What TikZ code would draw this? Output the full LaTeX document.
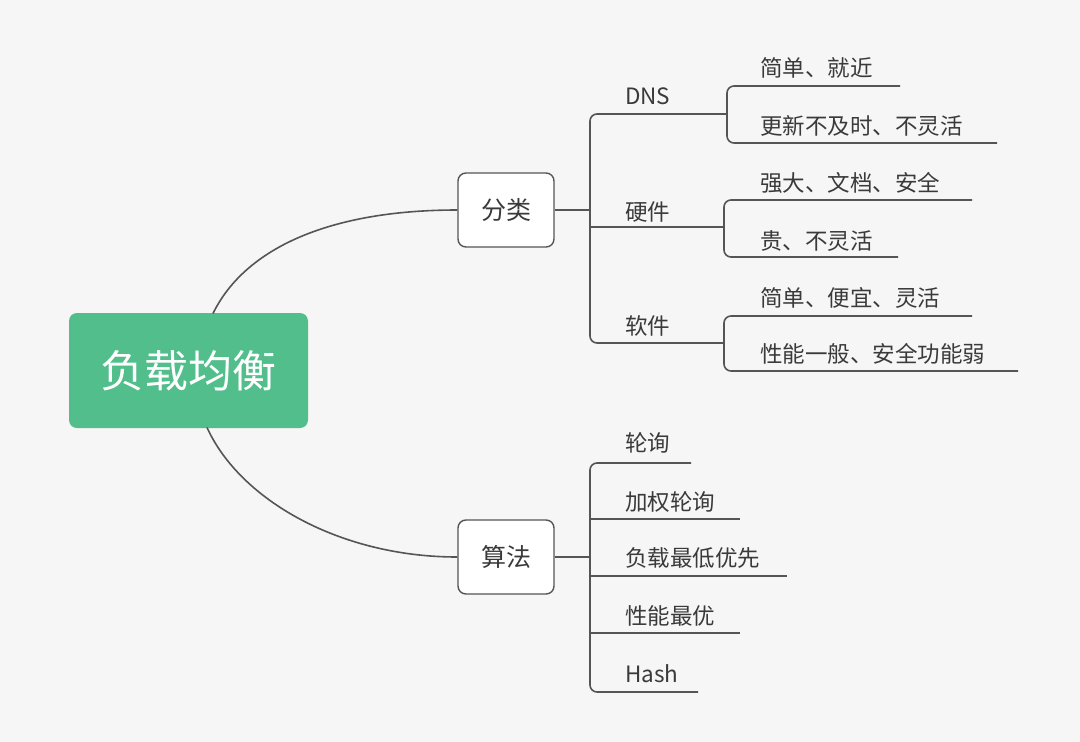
\documentclass[tikz,border=0pt]{standalone}
\usepackage{fontspec}
\setmainfont{Noto Sans CJK SC}
\definecolor{bg}{HTML}{F6F6F6}
\definecolor{rootgreen}{HTML}{52BE8C}
\definecolor{linegray}{HTML}{555555}
\definecolor{txt}{HTML}{3A3A3A}
\begin{document}
\begin{tikzpicture}[x=1pt,y=-1pt,
  conn/.style={draw=linegray,line width=1.6pt,rounded corners=7pt},
  rootbox/.style={fill=rootgreen,rounded corners=8pt,minimum width=239pt,minimum height=115pt,text=white,font=\fontsize{44}{50}\selectfont},
  topicbox/.style={draw=linegray,line width=1.4pt,fill=white,rounded corners=8pt,minimum width=96pt,minimum height=74pt,text=txt,font=\fontsize{25}{30}\selectfont},
  leaf/.style={anchor=west,inner sep=0pt,text=txt,font=\fontsize{22.5}{26}\selectfont}
]
\fill[bg] (0,0) rectangle (1080,742);
\useasboundingbox (0,0) rectangle (1080,742);

% root and topics
\node[rootbox] (root) at (188.5,370.5) {负载均衡};
\node[topicbox] (fl) at (506,210) {分类};
\node[topicbox] (sf) at (506,557) {算法};

\coordinate (c1) at (213,313.5);
\coordinate (c2) at (207,427.5);
\draw[conn] (c1) .. controls (245,248) and (330,210) .. (fl.west);
\draw[conn] (c2) .. controls (240,500) and (340,557) .. (sf.west);

% ---- classification branch ----
\node[leaf] (dns) at (625,96) {DNS};
\node[leaf] (hw) at (625,212) {硬件};
\node[leaf] (sw) at (625,326) {软件};
\coordinate (dnsR) at (727,114);
\coordinate (hwR) at (724,227);
\coordinate (swR) at (724,343);
\coordinate (j1) at (590,210);
\draw[conn] (fl.east) -- (j1);
\draw[conn] (dnsR) -| (j1) |- (swR);
\draw[conn] (590,227) -- (hwR);

% DNS leaves
\node[leaf] (d1) at (760,68) {简单、就近};
\node[leaf] (d2) at (760,126) {更新不及时、不灵活};
\coordinate (d1e) at (900,86);
\coordinate (d2e) at (997,143);
\draw[conn] (d1e) -| (dnsR) |- (d2e);

% hardware leaves
\node[leaf] (h1) at (760,183) {强大、文档、安全};
\node[leaf] (h2) at (760,241) {贵、不灵活};
\coordinate (h1e) at (972,200);
\coordinate (h2e) at (898,257);
\draw[conn] (h1e) -| (hwR) |- (h2e);

% software leaves
\node[leaf] (s1) at (760,298) {简单、便宜、灵活};
\node[leaf] (s2) at (760,354) {性能一般、安全功能弱};
\coordinate (s1e) at (972,316);
\coordinate (s2e) at (1018,371);
\draw[conn] (s1e) -| (swR) |- (s2e);

% ---- algorithm branch ----
\node[leaf] (a1) at (625,443) {轮询};
\node[leaf] (a2) at (625,502) {加权轮询};
\node[leaf] (a3) at (625,558) {负载最低优先};
\node[leaf] (a4) at (625,616) {性能最优};
\node[leaf] (a5) at (625,674) {Hash};
\coordinate (j2) at (590,557);
\coordinate (a1e) at (691,463);
\coordinate (a2e) at (740,519);
\coordinate (a3e) at (787,576);
\coordinate (a4e) at (740,633);
\coordinate (a5e) at (698,692);
\draw[conn] (sf.east) -- (j2);
\draw[conn] (a1e) -| (j2) |- (a5e);
\draw[conn] (590,519) -- (a2e);
\draw[conn] (590,576) -- (a3e);
\draw[conn] (590,633) -- (a4e);
\end{tikzpicture}
\end{document}
